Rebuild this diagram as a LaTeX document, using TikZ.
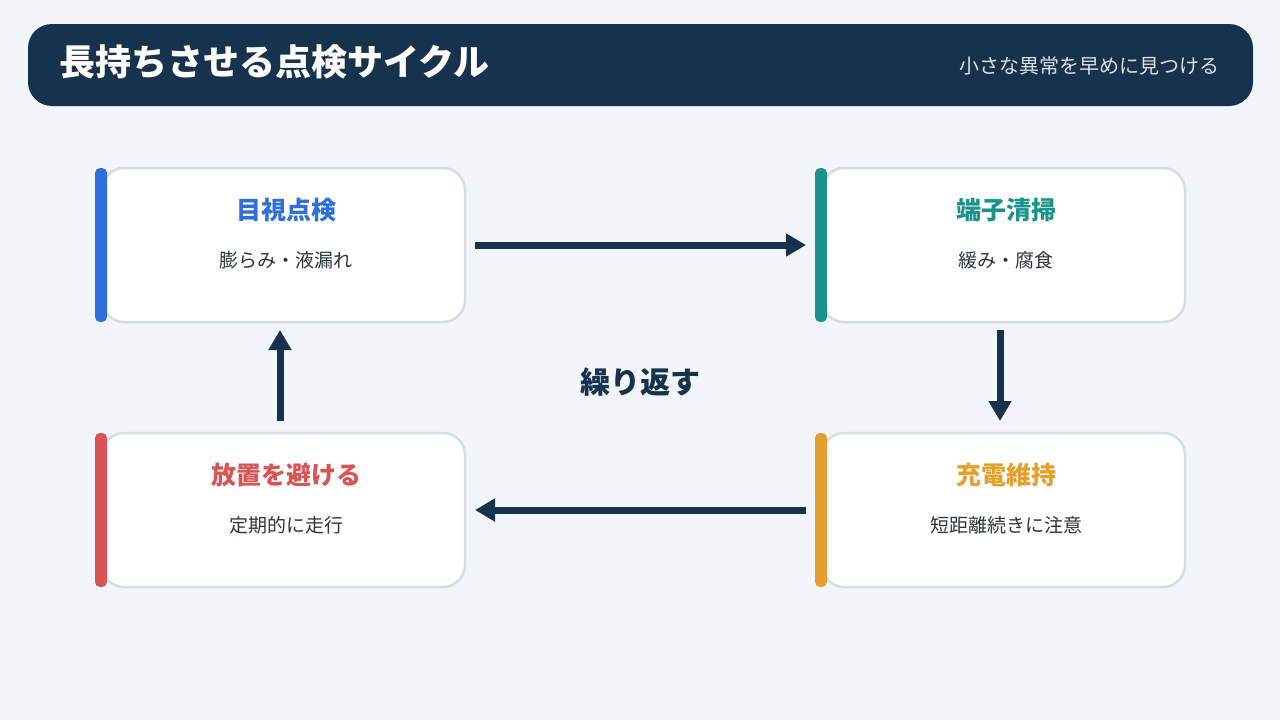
\documentclass[tikz,border=0pt]{standalone}
\usepackage{fontspec}
\setmainfont{Noto Sans CJK JP}
\usetikzlibrary{arrows.meta}
\definecolor{bg}{HTML}{F2F5FA}
\definecolor{navy}{HTML}{17324D}
\definecolor{cblue}{HTML}{2F6FDB}
\definecolor{cteal}{HTML}{1A9488}
\definecolor{corange}{HTML}{E3A02C}
\definecolor{cred}{HTML}{D95555}
\definecolor{bord}{HTML}{D5DDE6}
\definecolor{txt}{HTML}{2B3440}
\begin{document}
\begin{tikzpicture}[x=1pt,y=-1pt,
 card/.style={draw=bord,line width=2.5pt,fill=white,rounded corners=22pt},
 ttl/.style={font=\fontsize{25}{28}\selectfont\bfseries},
 sub/.style={font=\fontsize{19}{22}\selectfont,text=txt},
 arr/.style={navy,line width=7pt,-{Triangle[length=20pt,width=22pt]}}]
\useasboundingbox[fill=bg] (0,0) rectangle (1280,720);
\fill[navy,rounded corners=24pt] (28,24) rectangle (1253,106);
\node[anchor=west,text=white,font=\fontsize{36}{40}\selectfont\bfseries] (title) at (56,62) {長持ちさせる点検サイクル};
\node[anchor=east,text=white!85!navy,font=\fontsize{20}{23}\selectfont] (subt) at (1223,66) {小さな異常を早めに見つける};
\foreach \n/\x/\y/\c/\t/\s in {a/96/168/cblue/目視点検/膨らみ・液漏れ, b/816/168/cteal/端子清掃/緩み・腐食, c/816/433/corange/充電維持/短距離続きに注意, d/96/433/cred/放置を避ける/定期的に走行}{
 \draw[card] (\x+6,\y) rectangle (\x+369,\y+154);
 \fill[\c,rounded corners=5pt] (\x-1,\y) rectangle (\x+11,\y+154);
 \node[ttl,text=\c] (\n t) at (\x+190,\y+42) {\t};
 \node[sub] (\n s) at (\x+190,\y+92) {\s};
 \coordinate (\n) at (\x+184,\y+77);
}
\coordinate (p1) at (475,245); \coordinate (p2) at (806,245);
\coordinate (p3) at (1000,330); \coordinate (p4) at (1000,421);
\coordinate (p5) at (806,510); \coordinate (p6) at (475,510);
\coordinate (p7) at (280,421); \coordinate (p8) at (280,330);
\draw[arr] (p1) -- (p2);
\draw[arr] (p3) -- (p4);
\draw[arr] (p5) -- (p6);
\draw[arr] (p7) -- (p8);
\node[text=navy,font=\fontsize{30}{33}\selectfont\bfseries] (center) at (640,382) {繰り返す};
\end{tikzpicture}
\end{document}
